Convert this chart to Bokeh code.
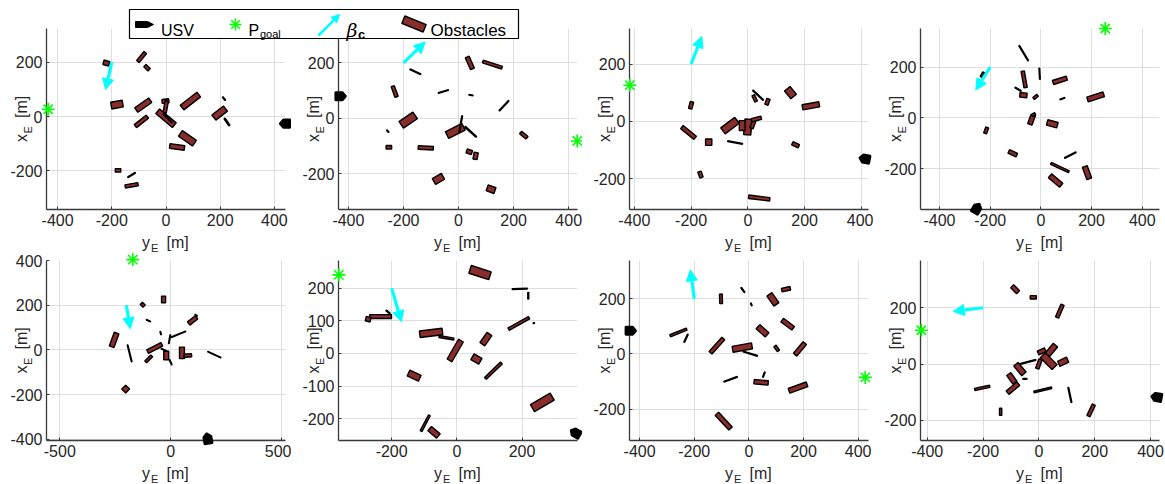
import numpy as np
from bokeh.plotting import figure
from bokeh.models import Range1d, FixedTicker, Arrow, NormalHead, GridBox, ColumnDataSource
from bokeh.core.properties import value
from bokeh.embed import file_html
from bokeh.resources import INLINE

# ---------------- data (horizontal = y_E, vertical = x_E) ----------------
# obstacles per panel: centre y_E, centre x_E, length, width, angle [deg]
obs1_ye = [-220, -90, -70, -181, -84, -91, -2, -1, 0, 6, 90, 79, 41, 198, 214, 225, -177, -127, -127]
obs1_xe = [197, 219, 180, 44, 42, -18, 57, 36, -6, -6, 57, -80, -112, 13, 66, -20, -198, -215, -253]
obs1_len = [22, 43, 22, 43, 63, 56, 25, 45, 80, 45, 78, 63, 55, 54, 15, 31, 20, 32, 48]
obs1_wid = [17, 12, 12, 25, 20, 14, 15, 12, 22, 3, 22, 25, 17, 24, 3, 5, 13, 3, 12]
obs1_ang = [-15, 51, -45, 10, 35, 38, 5, 80, -40, -45, 38, -35, -8, 38, -50, -55, 0, 32, 10]

obs2_ye = [41, 123, -157, -232, -55, 45, 165, -183, -257, -253, -119, -12, 8, 44, 39, 62, 237, -73, 118]
obs2_xe = [200, 194, 168, 97, 97, 84, 46, -6, -46, -104, -106, -45, -20, -48, -120, -135, -60, -218, -255]
obs2_len = [47, 73, 43, 41, 38, 15, 50, 61, 10, 20, 55, 67, 60, 55, 20, 25, 30, 38, 30]
obs2_wid = [15, 10, 3, 12, 3, 3, 3, 29, 3, 13, 13, 27, 3, 4, 15, 15, 12, 24, 22]
obs2_ang = [114, -18, -25, 110, 17, -10, 47, 34, -50, 0, -3, 27, 80, -42, -20, 80, -40, 30, -20]

obs3_ye = [-200, -209, -138, -167, -63, -45, 0, -20, 18, 30, 24, 36, 69, 150, 222, 168, 40]
obs3_xe = [56, -39, -73, -186, -15, -74, -20, -15, -10, 8, 80, 91, 68, 100, 54, -82, -268]
obs3_len = [25, 60, 22, 22, 62, 53, 55, 35, 30, 35, 25, 50, 22, 35, 60, 25, 75]
obs3_wid = [12, 14, 22, 12, 26, 3, 25, 20, 12, 12, 10, 3, 12, 25, 18, 12, 12]
obs3_ang = [75, -39, 0, -70, 37, -10, 85, 90, 70, 15, -65, -43, 70, -50, 10, -25, -7]

obs4_ye = [-68, -5, -66, -90, -69, -21, 75, 85, 216, -230, -37, -29, 45, -216, -111, 116, 75, 58, 182]
obs4_xe = [255, 174, 152, 113, 90, 83, 148, 76, 83, 170, -7, 13, -23, -49, -139, -146, -195, -246, -215]
obs4_len = [69, 44, 66, 27, 28, 20, 57, 20, 67, 20, 38, 15, 42, 25, 35, 50, 78, 58, 52]
obs4_wid = [3, 3, 13, 3, 18, 10, 17, 3, 20, 10, 18, 10, 22, 12, 15, 3, 8, 20, 20]
obs4_ang = [-59, 93, 100, -30, -5, 40, 18, 20, 18, 60, 70, 30, -15, 70, -25, 27, -25, -40, -70]

obs5_ye = [-126, -32, -100, 99, 115, -45, 35, -5, -255, -185, -72, -99, -30, -20, 0, 51, 77, 197, -203]
obs5_xe = [202, 226, 131, 132, 155, 75, 70, 48, 45, -15, 9, -40, 0, -25, -55, -13, -25, -21, -175]
obs5_len = [18, 30, 20, 45, 12, 15, 70, 40, 65, 78, 72, 38, 28, 38, 25, 52, 35, 65, 25]
obs5_wid = [14, 18, 3, 18, 3, 3, 3, 3, 22, 3, 18, 12, 3, 22, 3, 22, 14, 3, 25]
obs5_ang = [-45, 90, -25, 38, -40, -75, 22, 80, 70, -76, 27, 45, -25, 90, -65, 90, 5, -25, 45]

obs6_ye = [71, 193, 219, -234, -272, -211, 190, 236, -79, -32, -5, 89, 60, 112, -131, 262, -97, -70]
obs6_xe = [248, 198, 177, 113, 105, 127, 92, 93, 63, 48, 9, 44, -17, -53, -68, -150, -214, -242]
obs6_len = [64, 46, 20, 67, 15, 15, 72, 4, 70, 46, 70, 38, 28, 68, 38, 70, 55, 35]
obs6_wid = [25, 3, 3, 12, 14, 3, 8, 3, 20, 6, 17, 18, 20, 8, 20, 25, 6, 17]
obs6_ang = [-18, 2, 90, 0, -15, -40, 29, 0, 7, -10, 60, 55, -30, 44, -25, 30, 62, -40]

obs7_ye = [-22, 9, -102, 88, 136, 142, 50, -258, -230, -117, -24, 5, 102, 187, -67, 45, 55, 180, -92]
obs7_xe = [232, 180, 200, 198, 235, 108, 84, 78, 57, 30, 23, 1, 20, 18, -92, -103, -75, -122, -244]
obs7_len = [22, 10, 35, 45, 32, 50, 45, 65, 32, 70, 72, 55, 22, 55, 52, 52, 20, 70, 73]
obs7_wid = [3, 3, 10, 22, 13, 16, 20, 8, 3, 14, 22, 3, 10, 16, 3, 16, 3, 18, 17]
obs7_ang = [-55, -70, 92, -55, 12, -37, -42, 22, 65, 48, 10, -17, -55, 50, 20, -5, 70, 20, -47]

obs8_ye = [-85, -20, 75, 10, 45, 35, 87, -40, 0, -68, -97, -50, -93, -203, 14, 111, -137, 187]
obs8_xe = [266, 237, 188, 45, 50, 10, 8, 7, 0, -18, -51, -53, -86, -85, -92, -110, -170, -165]
obs8_len = [30, 22, 50, 28, 45, 60, 35, 60, 35, 45, 38, 15, 50, 55, 65, 55, 25, 45]
obs8_wid = [15, 12, 12, 15, 20, 25, 20, 3, 12, 20, 18, 3, 16, 8, 6, 3, 8, 12]
obs8_ang = [-45, 0, 67, 25, 50, -45, 25, 15, 70, -50, -55, 0, 40, 12, 14, -78, 90, 65]

# USV position (y_E, x_E) and heading [deg]
usv_ye = [440, -429, 412, -253, 167, 364, -433, 422]
usv_xe = [-26, 80, -131, -356, -397, -244, 84, -118]
usv_hdg = [180, 0, 170, 60, 100, 150, 0, 170]

# goal positions
goal_ye = [-435, 431, -416, 254, -171, -362, 426, -421]
goal_xe = [27, -81, 126, 352, 404, 241, -85, 120]

# beta_c arrows: start and end
beta_y0 = [-200, -200, -200, -200, -200, -200, -200, -200]
beta_x0 = [200, 200, 200, 200, 200, 200, 200, 200]
beta_y1 = [-223, -121, -162, -257, -182, -170, -214, -307]
beta_x1 = [99, 275, 296, 110, 95, 97, 305, 187]

# axis ranges and ticks
x_ranges = [(-441, 441), (-436, 432), (-417, 425), (-475, 468),
            (-560, 518), (-363, 370), (-437, 438), (-424, 432)]
y_ranges = [(-342, 324), (-328, 324), (-308, 324), (-360, 352),
            (-405, 400), (-267, 285), (-314, 339), (-272, 368)]
x_ticks = [[-400, -200, 0, 200, 400]] * 4 + [[-500, 0, 500], [-200, 0, 200],
                                             [-400, -200, 0, 200, 400], [-400, -200, 0, 200, 400]]
y_ticks = [[-200, 0, 200], [-200, 0, 200], [-200, 0, 200], [-200, 0, 200],
           [-400, -200, 0, 200, 400], [-200, -100, 0, 100, 200], [-200, 0, 200], [-200, 0, 200]]

obs_all = [
    (obs1_ye, obs1_xe, obs1_len, obs1_wid, obs1_ang),
    (obs2_ye, obs2_xe, obs2_len, obs2_wid, obs2_ang),
    (obs3_ye, obs3_xe, obs3_len, obs3_wid, obs3_ang),
    (obs4_ye, obs4_xe, obs4_len, obs4_wid, obs4_ang),
    (obs5_ye, obs5_xe, obs5_len, obs5_wid, obs5_ang),
    (obs6_ye, obs6_xe, obs6_len, obs6_wid, obs6_ang),
    (obs7_ye, obs7_xe, obs7_len, obs7_wid, obs7_ang),
    (obs8_ye, obs8_xe, obs8_len, obs8_wid, obs8_ang),
]

FONT = "Liberation Sans"
TXT = "#262626"
OBS_FILL = "#882c2c"
CYAN = "#00ffff"
GREEN = "#00ff00"

COL_W = 291
FRAME_W = 239
ROW_H = [253, 231]
ROW_TOP = [28, 7]
FRAME_H = [181, 180]


def usv_shape(cy, cx, hdg, upp):
    pts = np.array([[-5, -4], [2, -4], [5.5, 0], [2, 4], [-5, 4]], dtype=float) * upp
    a = np.deg2rad(hdg)
    xs = cy + pts[:, 0] * np.cos(a) - pts[:, 1] * np.sin(a)
    ys = cx + pts[:, 0] * np.sin(a) + pts[:, 1] * np.cos(a)
    return list(xs), list(ys)


def add_text(p, x, y, txt, fs, angle=0.0, font=FONT, style="normal", color=TXT):
    r = p.text([x], [y], text=[txt], angle=angle, text_font=value(font), text_font_size=fs,
               text_font_style=style, text_color=color, text_align="left",
               text_baseline="alphabetic")
    r.level = "overlay"
    return r


def make_panel(i):
    r, c = divmod(i, 4)
    left = 46 if c == 0 else 47
    right = COL_W - left - FRAME_W
    top = ROW_TOP[r]
    bottom = ROW_H[r] - top - FRAME_H[r]
    x0, x1 = x_ranges[i]
    y0, y1 = y_ranges[i]
    p = figure(width=COL_W, height=ROW_H[r], title=None, toolbar_location=None,
               output_backend="svg", x_range=Range1d(x0, x1), y_range=Range1d(y0, y1),
               min_border_left=left, min_border_right=right, min_border_top=top,
               min_border_bottom=bottom, outline_line_color=None,
               background_fill_color="white", border_fill_color=None)
    for ax, ticks in ((p.xaxis[0], x_ticks[i]), (p.yaxis[0], y_ticks[i])):
        ax.ticker = FixedTicker(ticks=ticks)
        ax.major_label_overrides = {t: str(t) for t in ticks}
        ax.axis_line_color = "#3a3a3a"
        ax.axis_line_width = 1.3
        ax.major_tick_in = 3
        ax.major_tick_out = 0
        ax.major_tick_line_color = "#3a3a3a"
        ax.minor_tick_line_color = None
        ax.major_label_text_font = FONT
        ax.major_label_text_font_size = "16px"
        ax.major_label_text_color = TXT
    p.xaxis.major_label_standoff = 4
    p.yaxis.major_label_standoff = 4
    for g, ticks in ((p.xgrid[0], x_ticks[i]), (p.ygrid[0], y_ticks[i])):
        g.ticker = FixedTicker(ticks=ticks)
        g.grid_line_color = "#dedede"
        g.grid_line_width = 1

    oy, ox, ol, ow, oa = obs_all[i]
    src = ColumnDataSource(dict(x=oy, y=ox, w=ol, h=ow, a=oa))
    p.rect(x="x", y="y", width="w", height="h", angle="a", angle_units="deg", source=src,
           fill_color=OBS_FILL, line_color="black", line_width=1.4)

    upx = (x1 - x0) / FRAME_W
    upy = (y1 - y0) / FRAME_H[r]
    bx, by = usv_shape(usv_ye[i], usv_xe[i], usv_hdg[i], upx)
    rr = p.patch(bx, by, fill_color="black", line_color="black", line_width=2)
    rr.level = "overlay"
    sr = p.scatter([goal_ye[i]], [goal_xe[i]], marker="asterisk", size=13,
                   line_color=GREEN, line_width=1.6)
    sr.level = "overlay"
    p.add_layout(Arrow(x_start=beta_y0[i], y_start=beta_x0[i], x_end=beta_y1[i], y_end=beta_x1[i],
                       line_color=CYAN, line_width=3.2,
                       end=NormalHead(size=11, fill_color=CYAN, line_color=CYAN, line_width=1)))

    # axis labels with subscripts (text glyphs just outside the frame)
    s0 = FRAME_W / 2.0 - 24
    for txt, dx, dy, fs in (("y", s0, -32.5, "16px"), ("E", s0 + 9, -38, "11px"),
                            ("[m]", s0 + 24.5, -32.5, "16px")):
        add_text(p, x0 + dx * upx, y0 + dy * upy, txt, fs)
    t0 = FRAME_H[r] / 2.0 - 23
    for txt, dx, dy, fs in (("x", -25, t0, "16px"), ("E", -19, t0 + 8.5, "11px"),
                            ("[m]", -25, t0 + 24, "16px")):
        add_text(p, x0 + dx * upx, y0 + dy * upy, txt, fs, angle=np.pi / 2)
    return p


panels = [make_panel(i) for i in range(8)]

# ---------------- legend overlay (page-pixel coordinates, y downwards) ----------------
LW, LH = 2 * COL_W, ROW_H[0]
L_LEFT, L_RIGHT = 46, COL_W - 47 - FRAME_W
L_TOP, L_BOT = ROW_TOP[0], ROW_H[0] - ROW_TOP[0] - FRAME_H[0]
leg = figure(width=LW, height=LH, title=None, toolbar_location=None, output_backend="svg",
             x_range=Range1d(L_LEFT, LW - L_RIGHT), y_range=Range1d(LH - L_BOT, L_TOP),
             min_border_left=L_LEFT, min_border_right=L_RIGHT,
             min_border_top=L_TOP, min_border_bottom=L_BOT,
             x_axis_location=None, y_axis_location=None,
             background_fill_color=None, border_fill_color=None, outline_line_color=None)
leg.grid.visible = False
rends = []
rends.append(leg.quad(left=[129], right=[518], top=[9], bottom=[38], fill_color="white",
                      line_color="black", line_width=1.2))
rends.append(leg.patch([135, 147, 153, 147, 135], [21, 21, 24, 27, 27], fill_color="black",
                       line_color="black", line_width=1))
rends.append(leg.scatter([235], [24], marker="asterisk", size=12, line_color=GREEN, line_width=1.5))
rends.append(leg.rect([413.5], [23.5], width=[23], height=[8], angle=[-22], angle_units="deg",
                      fill_color=OBS_FILL, line_color="black", line_width=1.4))
# legend arrow: shaft + head
ax0, ay0, ax1, ay1 = 318.0, 35.0, 339.0, 14.0
d = np.array([ax1 - ax0, ay1 - ay0])
d = d / np.hypot(*d)
nrm = np.array([-d[1], d[0]])
base = np.array([ax1, ay1]) - 8.0 * d
rends.append(leg.segment([ax0], [ay0], [base[0]], [base[1]], line_color=CYAN, line_width=2.6))
hx = [ax1, base[0] + 4 * nrm[0], base[0] - 4 * nrm[0]]
hy = [ay1, base[1] + 4 * nrm[1], base[1] - 4 * nrm[1]]
rends.append(leg.patch(hx, hy, fill_color=CYAN, line_color=CYAN, line_width=1))
for rd in rends:
    rd.level = "overlay"
add_text(leg, 160.5, 29.8, "USV", "16px", color="black")
add_text(leg, 248, 29.8, "P", "16px", color="black")
add_text(leg, 259.5, 33.5, "goal", "11px", color="black")
add_text(leg, 346, 29.8, "β", "19px", font="DejaVu Serif", style="italic", color="black")
add_text(leg, 357.5, 33.5, "c", "13px", style="bold", color="black")
add_text(leg, 430, 29.8, "Obstacles", "17px", color="black")

children = []
for i, p in enumerate(panels):
    r, c = divmod(i, 4)
    children.append((p, r, c))
children.append((leg, 0, 0, 1, 2))
layout = GridBox(children=children, spacing=0)

open("out.html", "w").write(file_html(layout, INLINE))
